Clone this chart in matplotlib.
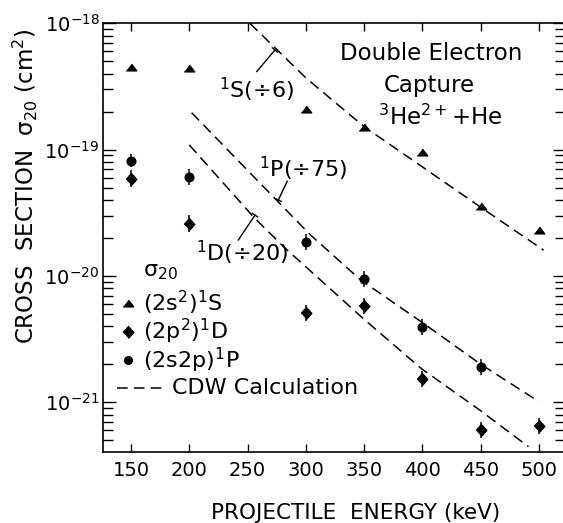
import numpy as np
import matplotlib.pyplot as plt
from matplotlib import font_manager
from matplotlib.ticker import FixedLocator, LogLocator, FuncFormatter, NullFormatter

# ---------------------------------------
# DATA
# ---------------------------------------
energy_1S = [150, 200, 300, 350, 400, 450, 500]
sigma_1S = [4.5e-19, 4.4e-19, 2.08e-19, 1.52e-19, 9.5e-20, 3.6e-20, 2.3e-20]

energy_1P = [150, 200, 300, 350, 400, 450]
sigma_1P = [8.2e-20, 6.1e-20, 1.85e-20, 9.4e-21, 3.96e-21, 1.91e-21]
relerr_1P = [0.12, 0.16, 0.16, 0.16, 0.16, 0.16]

energy_1D = [150, 200, 300, 350, 400, 450, 500]
sigma_1D = [5.9e-20, 2.6e-20, 5.06e-21, 5.8e-21, 1.52e-21, 6.0e-22, 6.5e-22]
relerr_1D = [0.16, 0.16, 0.16, 0.16, 0.16, 0.16, 0.16]

# CDW calculation (scaled curves)
cdw_energy_1S = [252, 300, 350, 400, 450, 504]
cdw_1S = [1.0e-18, 3.7e-19, 1.52e-19, 7.3e-20, 3.5e-20, 1.6e-20]
cdw_energy_1P = [202, 277, 304, 347, 399, 449, 500]
cdw_1P = [1.96e-19, 3.8e-20, 2.11e-20, 9.3e-21, 4.34e-21, 2.03e-21, 1.01e-21]
cdw_energy_1D = [200, 255, 281, 349, 399, 449, 491]
cdw_1D = [1.09e-19, 2.94e-20, 1.70e-20, 4.62e-21, 1.85e-21, 8.7e-22, 4.45e-22]

xticks = [150, 200, 250, 300, 350, 400, 450, 500]
yticks = [1e-21, 1e-20, 1e-19, 1e-18]

# ---------------------------------------
# STYLE
# ---------------------------------------
names = {f.name for f in font_manager.fontManager.ttflist}
tick_font = 'Liberation Sans Narrow' if 'Liberation Sans Narrow' in names else 'DejaVu Sans'
tick_size = 16 if tick_font != 'DejaVu Sans' else 14

plt.rcParams['font.family'] = ['DejaVu Sans']
plt.rcParams['mathtext.fontset'] = 'custom'
plt.rcParams['mathtext.rm'] = tick_font
plt.rcParams['mathtext.it'] = tick_font
plt.rcParams['mathtext.bf'] = tick_font

tri = [(-1, -0.65), (1, -0.65), (0, 0.65)]
dia = [(-0.9, 0), (0, 1), (0.9, 0), (0, -1)]
dash = (0, (7, 4))


def asym_err(y, rel):
    y = np.array(y)
    rel = np.array(rel)
    return [y - y / (1 + rel), y * rel]


fig = plt.figure(figsize=(5.63, 5.23), dpi=100)
ax = fig.add_axes([0.1838, 0.1363, 0.8203, 0.8191])

# data points
ax.plot(energy_1S, sigma_1S, linestyle='none', marker=tri, ms=7.5,
        color='black', clip_on=False)
ax.errorbar(energy_1D, sigma_1D, yerr=asym_err(sigma_1D, relerr_1D),
            fmt='none', ecolor='black', elinewidth=1.1, capsize=0)
ax.plot(energy_1D, sigma_1D, linestyle='none', marker=dia, ms=8.5,
        color='black')
ax.errorbar(energy_1P, sigma_1P, yerr=asym_err(sigma_1P, relerr_1P),
            fmt='none', ecolor='black', elinewidth=1.1, capsize=0)
ax.plot(energy_1P, sigma_1P, linestyle='none', marker='o', ms=6.2,
        color='black')

# CDW curves
for e, s in [(cdw_energy_1S, cdw_1S), (cdw_energy_1P, cdw_1P),
             (cdw_energy_1D, cdw_1D)]:
    ax.plot(e, s, color='black', lw=1.1, linestyle=dash)

ax.set_yscale('log')
ax.set_xlim(126.4, 522.6)
ax.set_ylim(4.06e-22, 1e-18)

ax.xaxis.set_major_locator(FixedLocator(xticks))
ax.yaxis.set_major_locator(FixedLocator(yticks))
ax.yaxis.set_minor_locator(LogLocator(base=10, subs=np.arange(2, 10), numticks=20))
ax.yaxis.set_minor_formatter(NullFormatter())
ax.yaxis.set_major_formatter(FuncFormatter(
    lambda v, _: '10$^{%d}$' % int(round(np.log10(v)))))

ax.tick_params(axis='both', which='both', direction='in', top=True, right=True,
               width=1.0, colors='black')
ax.tick_params(axis='x', which='major', length=6, pad=7)
ax.tick_params(axis='y', which='major', length=9, pad=3)
ax.tick_params(axis='y', which='minor', length=7)
for lab in ax.get_xticklabels() + ax.get_yticklabels():
    lab.set_fontfamily(tick_font)
    lab.set_fontsize(tick_size)
for sp in ax.spines.values():
    sp.set_linewidth(1.2)

ax.set_xlabel('PROJECTILE  ENERGY (keV)', fontsize=15.5)
ax.xaxis.set_label_coords(0.547, -0.142)
ax.xaxis.label.set_va('center')
ax.set_ylabel('CROSS  SECTION  σ$_{20}$ (cm$^2$)', fontsize=16.5, va='center')
ax.yaxis.set_label_coords(-0.168, 0.62)

# curve labels with leader lines
ax.text(257.8, 2.96e-19, '$^1$S(÷6)', fontsize=16, ha='center', va='center')
ax.text(297.8, 7.0e-20, '$^1$P(÷75)', fontsize=16, ha='center', va='center')
ax.text(245.7, 1.52e-20, '$^1$D(÷20)', fontsize=16, ha='center', va='center')
lead = dict(arrowstyle='-[, widthB=0.25, lengthB=0', color='black', lw=1.0,
            shrinkA=0, shrinkB=0)
ax.annotate('', xy=(273.5, 6.15e-19), xytext=(257.8, 4.14e-19), arrowprops=lead)
ax.annotate('', xy=(276.4, 3.99e-20), xytext=(284.1, 5.64e-20), arrowprops=lead)
ax.annotate('', xy=(256.4, 3.03e-20), xytext=(242.0, 1.92e-20), arrowprops=lead)

# title block
ax.text(0.709, 0.930, 'Double Electron', transform=ax.transAxes,
        fontsize=16.5, ha='center', va='center')
ax.text(0.705, 0.856, 'Capture', transform=ax.transAxes,
        fontsize=16.5, ha='center', va='center')
ax.text(0.729, 0.780, '$^3$He$^{2+}$+He', transform=ax.transAxes,
        fontsize=16.5, ha='center', va='center')

# legend (drawn by hand to match the layout)
mx, tx = 0.0537, 0.0862
rows = [0.4202, 0.3478, 0.2801, 0.2141, 0.1480]
ax.text(tx, rows[0], 'σ$_{20}$', transform=ax.transAxes, fontsize=16,
        ha='left', va='center')
keys = [(tri, 7.5, '(2s$^2$)$^1$S'), (dia, 8.5, '(2p$^2$)$^1$D'),
        ('o', 5.5, '(2s2p)$^1$P')]
for (m, ms, lab), yy in zip(keys, rows[1:4]):
    ax.plot([mx], [yy], linestyle='none', marker=m, ms=ms, color='black',
            transform=ax.transAxes, clip_on=False)
    ax.text(tx, yy, lab, transform=ax.transAxes, fontsize=16,
            ha='left', va='center')
ax.plot([0.0286, 0.1295], [rows[4], rows[4]], color='black', lw=1.1,
        linestyle=dash, transform=ax.transAxes)
ax.text(0.1477, rows[4], 'CDW Calculation', transform=ax.transAxes,
        fontsize=16, ha='left', va='center')

fig.savefig('out.png', dpi=100)
